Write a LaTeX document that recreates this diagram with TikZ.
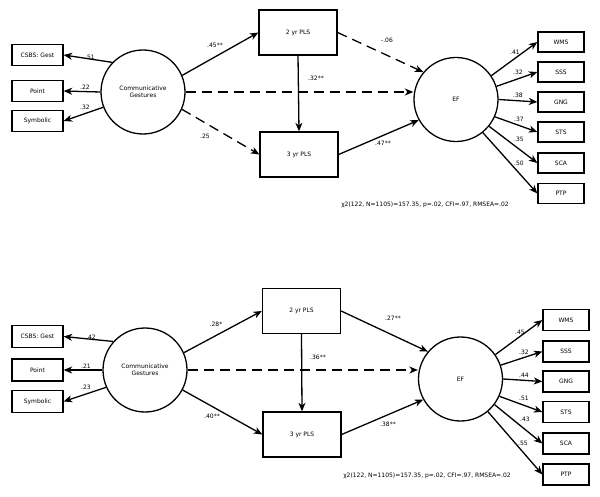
\documentclass[tikz,border=0pt]{standalone}
\usepackage{fontspec}
\setmainfont{DejaVu Sans}
\usetikzlibrary{arrows.meta}

\begin{document}
\begin{tikzpicture}
  [x=1pt,y=-1pt,line width=1.3pt,>={Stealth[length=8.5pt,width=7pt,inset=2.5pt]},
   every node/.style={font=\fontsize{6}{7}\selectfont},
   latent/.style={draw,shape=circle,minimum size=84pt,inner sep=0pt,align=center},
   obs/.style={draw,shape=rectangle,minimum width=51pt,minimum height=21pt,inner sep=0pt},
   plsbox/.style={draw,shape=rectangle,minimum width=78pt,minimum height=45pt,inner sep=0pt},
   efbox/.style={draw,shape=rectangle,minimum width=46pt,minimum height=20pt,inner sep=0pt},
   coef/.style={inner sep=0pt},
   effect/.style={dash pattern=on 10pt off 6pt}]

  \useasboundingbox (0,0) rectangle (600,497);

  \node[obs] (csbs) at (37.5,55) {CSBS: Gest};
  \node[obs] (point) at (37.5,91) {Point};
  \node[obs] (symb) at (37.5,121) {Symbolic};
  \node[latent] (cg) at (143,92) {Communicative\\Gestures};
  \node[plsbox] (pls2) at (298,32.5) {2 yr PLS};
  \node[plsbox] (pls3) at (299,154.5) {3 yr PLS};
  \node[latent] (ef) at (456,99.5) {EF};
  \node[efbox] (wms) at (561,42) {WMS};
  \node[efbox] (sss) at (561,72) {SSS};
  \node[efbox] (gng) at (561,102) {GNG};
  \node[efbox] (sts) at (561,132) {STS};
  \node[efbox] (sca) at (561,163) {SCA};
  \node[efbox] (ptp) at (561,193.5) {PTP};

  \draw[->] (cg.136) -- (csbs.east);
  \draw[->] (cg.west) -- (point.east);
  \draw[->] (cg.201) -- (symb.east);
  \draw[->] (cg.23) -- (pls2.west);
  \draw[->,effect] (cg.east) -- (cg.east -| ef.west);
  \draw[->,effect] (cg.336) -- (pls3.west);
  \draw[->] (pls2.south) -- (pls3.north);
  \draw[->,effect] (pls2.east) -- (ef.140);
  \draw[->] (pls3.east) -- (ef.209);
  \draw[->] (ef.34) -- (wms.west);
  \draw[->] (ef.18) -- (sss.west);
  \draw[->] (ef.0) -- (gng.west);
  \draw[->] (ef.336) -- (sts.west);
  \draw[->] (ef.321) -- (sca.west);
  \draw[->] (ef.309) -- (ptp.west);

  \node[coef] (c1) at (90,57) {.51};
  \node[coef] (c2) at (85,87) {.22};
  \node[coef] (c3) at (85,107) {.32};
  \node[coef] (c4) at (215,45) {.45**};
  \node[coef] (c5) at (316,78) {.32**};
  \node[coef] (c6) at (387,40) {-.06};
  \node[coef] (c7) at (205,136) {.25};
  \node[coef] (c8) at (383,143) {.47**};
  \node[coef] (c9) at (515,52) {.41};
  \node[coef] (c10) at (518,72) {.32};
  \node[coef] (c11) at (518,95) {.38};
  \node[coef] (c12) at (519,119) {.37};
  \node[coef] (c13) at (519,139) {.35};
  \node[coef] (c14) at (519,163) {.50};
  \node[coef] (fit) at (425,205) {χ2(122, N=1105)=157.35, p=.02, CFI=.97, RMSEA=.02};

  \node[obs,minimum height=22pt] (csbsb) at (37.5,336.5) {CSBS: Gest};
  \node[obs,minimum height=22pt] (pointb) at (37.5,370) {Point};
  \node[obs,minimum height=22pt] (symbb) at (37.5,401.5) {Symbolic};
  \node[latent] (cgb) at (145,370) {Communicative\\Gestures};
  \node[plsbox] (pls2b) at (301.5,311) {2 yr PLS};
  \node[plsbox] (pls3b) at (302,434.5) {3 yr PLS};
  \node[latent] (efb) at (460.5,379) {EF};
  \node[efbox,minimum height=21pt] (wmsb) at (566,320) {WMS};
  \node[efbox,minimum height=21pt] (sssb) at (566,351.5) {SSS};
  \node[efbox,minimum height=21pt] (gngb) at (566,381.5) {GNG};
  \node[efbox,minimum height=21pt] (stsb) at (566,412) {STS};
  \node[efbox,minimum height=21pt] (scab) at (566,443.5) {SCA};
  \node[efbox,minimum height=21pt] (ptpb) at (566,474.5) {PTP};

  \draw[->] (cgb.138) -- (csbsb.east);
  \draw[->] (cgb.west) -- (pointb.east);
  \draw[->] (cgb.204) -- (symbb.east);
  \draw[->] (cgb.24) -- (pls2b.west);
  \draw[->,effect] (cgb.east) -- (cgb.east -| efb.west);
  \draw[->] (cgb.332) -- (pls3b.west);
  \draw[->] (pls2b.south) -- (pls3b.north);
  \draw[->] (pls2b.east) -- (efb.140);
  \draw[->] (pls3b.east) -- (efb.209);
  \draw[->] (efb.35) -- (wmsb.west);
  \draw[->] (efb.19) -- (sssb.west);
  \draw[->] (efb.0) -- (gngb.west);
  \draw[->] (efb.336) -- (stsb.west);
  \draw[->] (efb.323) -- (scab.west);
  \draw[->] (efb.310) -- (ptpb.west);

  \node[coef] (d1) at (91,337) {.42};
  \node[coef] (d2) at (86,366) {.21};
  \node[coef] (d3) at (86,387) {.23};
  \node[coef] (d4) at (216,324) {.28*};
  \node[coef] (d5) at (318,357) {.36**};
  \node[coef] (d6) at (393,318) {.27**};
  \node[coef] (d7) at (212,416) {.40**};
  \node[coef] (d8) at (388,424) {.38**};
  \node[coef] (d9) at (520,332) {.45};
  \node[coef] (d10) at (524,352) {.32};
  \node[coef] (d11) at (524,375) {.44};
  \node[coef] (d12) at (524,398) {.51};
  \node[coef] (d13) at (525,419) {.43};
  \node[coef] (d14) at (523,443) {.55};
  \node[coef] (fitb) at (427,476) {χ2(122, N=1105)=157.35, p=.02, CFI=.97, RMSEA=.02};
\end{tikzpicture}
\end{document}
